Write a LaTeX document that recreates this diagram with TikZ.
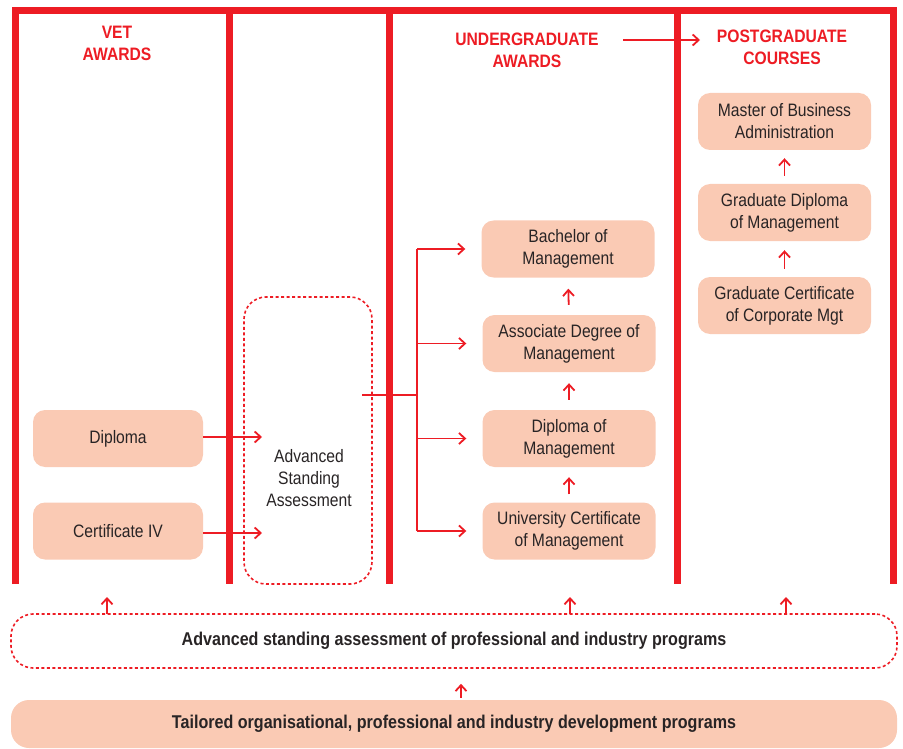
\documentclass[tikz,border=0pt]{standalone}
\usepackage{fontspec}
\setmainfont{Liberation Sans}[FakeStretch=0.87]
\usetikzlibrary{arrows.meta}

\definecolor{awardred}{RGB}{237,28,36}
\definecolor{awardpeach}{RGB}{250,202,180}
\definecolor{awardtext}{RGB}{40,36,37}

\tikzset{
  award/.style={rounded corners=12pt, fill=awardpeach, text=awardtext, align=center,
    minimum width=173pt, minimum height=57pt, inner sep=0pt,
    font=\fontsize{18}{22}\selectfont},
  dashbox/.style={draw=awardred, line width=1.6pt, dash pattern=on 3pt off 2.5pt,
    rounded corners=22pt, inner sep=0pt, text=awardtext, align=center},
  heading/.style={text=awardred, align=center, font=\bfseries\fontsize{18}{22}\selectfont},
  flow/.style={draw=awardred, line width=1.8pt, -{Straight Barb[length=6pt,width=11pt,line width=1.8pt]}},
  divider/.style={draw=awardred, line width=7pt}
}

\begin{document}
\begin{tikzpicture}[x=1pt, y=-1pt]

\useasboundingbox (0,0) rectangle (903,749);

% frame of the four columns
\draw[divider, line join=miter] (15,584)--(15,11)--(893,11)--(893,584);
\draw[divider] (229,11)--(229,584);
\draw[divider] (389,11)--(389,584);
\draw[divider] (677,11)--(677,584);

% headings
\node[heading] (vet) at (117,43) {VET\\AWARDS};
\node[heading] (ug) at (527,50) {UNDERGRADUATE\\AWARDS};
\node[heading] (pg) at (782,47) {POSTGRADUATE\\COURSES};
\draw[flow] (623,40) -- (700,40);

% postgraduate
\node[award] (mba) at (784.5,121.5) {Master of Business\\Administration};
\node[award] (gdm) at (784.5,212.5) {Graduate Diploma\\of Management};
\node[award] (gcc) at (784.5,305.5) {Graduate Certificate\\of Corporate Mgt};

% undergraduate
\node[award] (bom) at (568,249) {Bachelor of\\Management};
\node[award] (adm) at (569,343.5) {Associate Degree of\\Management};
\node[award] (dom) at (569,438.5) {Diploma of\\Management};
\node[award] (ucm) at (569,531) {University Certificate\\of Management};

% vet
\node[award, minimum width=170pt] (dip) at (118,438.5) {Diploma};
\node[award, minimum width=170pt] (cert) at (118,531) {Certificate IV};

% assessment
\node[dashbox, minimum width=128pt, minimum height=287pt] (asa) at (308,440.5) {};
\node[text=awardtext, align=center, font=\fontsize{18}{22}\selectfont]
  (asatext) at (309,478) {Advanced\\Standing\\Assessment};
\node[dashbox, minimum width=886pt, minimum height=54pt,
  font=\bfseries\fontsize{18.5}{22}\selectfont] (asp) at (454,641)
  {Advanced standing assessment of professional and industry programs};
\node[award, minimum width=886pt, minimum height=48pt, rounded corners=18pt,
  font=\bfseries\fontsize{18.5}{22}\selectfont] (tod) at (454,724)
  {Tailored organisational, professional and industry development programs};

% into and out of the assessment
\coordinate (in1) at (262,437);
\coordinate (in2) at (262,533);
\draw[flow] (dip.east |- in1) -- (in1);
\draw[flow] (cert.east |- in2) -- (in2);

\coordinate (out) at (362,395);
\coordinate (fork) at (417,395);
\draw[draw=awardred, line width=1.8pt] (out) -- (fork);
\draw[draw=awardred, line width=1.8pt] (fork |- bom.west) -- (fork |- ucm.west);
\foreach \target in {bom, adm, dom, ucm}
  \draw[flow, shorten >=16pt] (fork |- \target.west) -- (\target.west);

% progression
\draw[flow, shorten <=10pt, shorten >=11pt] (adm.north) -- (bom.south);
\draw[flow, shorten <=10pt, shorten >=11pt] (dom.north) -- (adm.south);
\draw[flow, shorten <=8pt, shorten >=10pt] (ucm.north) -- (dom.south);
\draw[flow, shorten <=8pt, shorten >=8pt] (gdm.north) -- (mba.south);
\draw[flow, shorten <=8pt, shorten >=9pt] (gcc.north) -- (gdm.south);

% from the programs upward
\draw[flow, shorten <=2pt, shorten >=15pt] (tod.north -| 461,0) -- (asp.south -| 461,0);
\foreach \xx in {107, 570, 786}
  \draw[flow] (\xx,614) -- (\xx,597);

\end{tikzpicture}
\end{document}
